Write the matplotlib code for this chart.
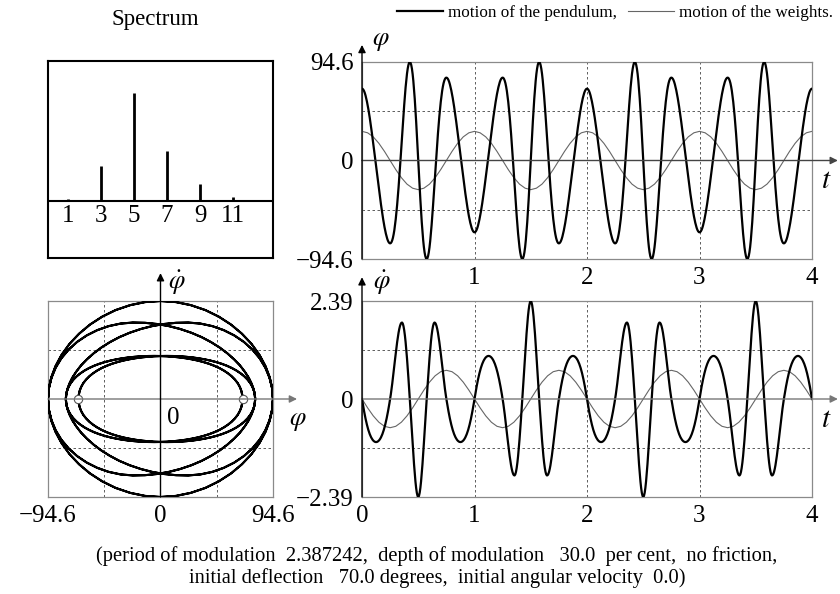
import numpy as np
import matplotlib

matplotlib.use("Agg")
import matplotlib.pyplot as plt

plt.rcParams["font.family"] = ["Liberation Serif", "DejaVu Serif"]
plt.rcParams["mathtext.fontset"] = "stix"

# --- data ---
# pendulum, sampled every 0.00625 time units from t=0 to t=4
T_PEND = np.linspace(0, 4, 641)
PHI_PEND = [
    69.0,
    # t in (0, 1]
    68.7, 67.9, 66.6, 64.8, 62.5, 59.8, 56.7, 53.3, 49.5, 45.4,
    41.1, 36.5, 31.7, 26.7, 21.6, 16.4, 11.0, 5.6, 0.2, -5.3,
    -10.8, -16.2, -21.6, -27.0, -32.2, -37.3, -42.3, -47.1, -51.7, -56.0,
    -60.1, -63.9, -67.3, -70.4, -73.1, -75.4, -77.2, -78.5, -79.3, -79.6,
    -79.3, -78.3, -76.6, -74.2, -70.9, -66.9, -61.9, -56.2, -49.7, -42.4,
    -34.4, -25.8, -16.6, -7.0, 3.0, 13.1, 23.4, 33.6, 43.6, 53.1,
    62.0, 70.2, 77.3, 83.4, 88.2, 91.7, 93.9, 94.6, 93.9, 91.8,
    88.2, 83.1, 76.5, 68.5, 59.3, 48.9, 37.6, 25.5, 12.9, 0.0,
    -12.9, -25.5, -37.6, -48.9, -59.3, -68.5, -76.5, -83.1, -88.2, -91.8,
    -93.9, -94.6, -93.9, -91.7, -88.2, -83.4, -77.3, -70.2, -62.0, -53.1,
    -43.6, -33.6, -23.4, -13.1, -3.0, 7.0, 16.6, 25.8, 34.4, 42.4,
    49.7, 56.2, 61.9, 66.9, 70.9, 74.2, 76.6, 78.3, 79.3, 79.6,
    79.3, 78.5, 77.2, 75.4, 73.1, 70.4, 67.3, 63.9, 60.1, 56.0,
    51.7, 47.1, 42.3, 37.3, 32.2, 27.0, 21.6, 16.2, 10.8, 5.3,
    -0.2, -5.6, -11.0, -16.4, -21.6, -26.7, -31.7, -36.5, -41.1, -45.4,
    -49.5, -53.3, -56.7, -59.8, -62.5, -64.8, -66.6, -67.9, -68.7, -69.0,
    # t in (1, 2]
    -68.7, -67.9, -66.6, -64.8, -62.5, -59.8, -56.7, -53.3, -49.5, -45.4,
    -41.1, -36.5, -31.7, -26.7, -21.6, -16.4, -11.0, -5.6, -0.2, 5.3,
    10.8, 16.2, 21.6, 27.0, 32.2, 37.3, 42.3, 47.1, 51.7, 56.0,
    60.1, 63.9, 67.3, 70.4, 73.1, 75.4, 77.2, 78.5, 79.3, 79.6,
    79.3, 78.3, 76.6, 74.2, 70.9, 66.9, 61.9, 56.2, 49.7, 42.4,
    34.4, 25.8, 16.6, 7.0, -3.0, -13.1, -23.4, -33.6, -43.6, -53.1,
    -62.0, -70.2, -77.3, -83.4, -88.2, -91.7, -93.9, -94.6, -93.9, -91.8,
    -88.2, -83.1, -76.5, -68.5, -59.3, -48.9, -37.6, -25.5, -12.9, 0.0,
    12.9, 25.5, 37.6, 48.9, 59.3, 68.5, 76.5, 83.1, 88.2, 91.8,
    93.9, 94.6, 93.9, 91.7, 88.2, 83.4, 77.3, 70.2, 62.0, 53.1,
    43.6, 33.6, 23.4, 13.1, 3.0, -7.0, -16.6, -25.8, -34.4, -42.4,
    -49.7, -56.2, -61.9, -66.9, -70.9, -74.2, -76.6, -78.3, -79.3, -79.6,
    -79.3, -78.5, -77.2, -75.4, -73.1, -70.4, -67.3, -63.9, -60.1, -56.0,
    -51.7, -47.1, -42.3, -37.3, -32.2, -27.0, -21.6, -16.2, -10.8, -5.3,
    0.2, 5.6, 11.0, 16.4, 21.6, 26.7, 31.7, 36.5, 41.1, 45.4,
    49.5, 53.3, 56.7, 59.8, 62.5, 64.8, 66.6, 67.9, 68.7, 69.0,
    # t in (2, 3]
    68.7, 67.9, 66.6, 64.8, 62.5, 59.8, 56.7, 53.3, 49.5, 45.4,
    41.1, 36.5, 31.7, 26.7, 21.6, 16.4, 11.0, 5.6, 0.2, -5.3,
    -10.8, -16.2, -21.6, -27.0, -32.2, -37.3, -42.3, -47.1, -51.7, -56.0,
    -60.1, -63.9, -67.3, -70.4, -73.1, -75.4, -77.2, -78.5, -79.3, -79.6,
    -79.3, -78.3, -76.6, -74.2, -70.9, -66.9, -61.9, -56.2, -49.7, -42.4,
    -34.4, -25.8, -16.6, -7.0, 3.0, 13.1, 23.4, 33.6, 43.6, 53.1,
    62.0, 70.2, 77.3, 83.4, 88.2, 91.7, 93.9, 94.6, 93.9, 91.8,
    88.2, 83.1, 76.5, 68.5, 59.3, 48.9, 37.6, 25.5, 12.9, 0.0,
    -12.9, -25.5, -37.6, -48.9, -59.3, -68.5, -76.5, -83.1, -88.2, -91.8,
    -93.9, -94.6, -93.9, -91.7, -88.2, -83.4, -77.3, -70.2, -62.0, -53.1,
    -43.6, -33.6, -23.4, -13.1, -3.0, 7.0, 16.6, 25.8, 34.4, 42.4,
    49.7, 56.2, 61.9, 66.9, 70.9, 74.2, 76.6, 78.3, 79.3, 79.6,
    79.3, 78.5, 77.2, 75.4, 73.1, 70.4, 67.3, 63.9, 60.1, 56.0,
    51.7, 47.1, 42.3, 37.3, 32.2, 27.0, 21.6, 16.2, 10.8, 5.3,
    -0.2, -5.6, -11.0, -16.4, -21.6, -26.7, -31.7, -36.5, -41.1, -45.4,
    -49.5, -53.3, -56.7, -59.8, -62.5, -64.8, -66.6, -67.9, -68.7, -69.0,
    # t in (3, 4]
    -68.7, -67.9, -66.6, -64.8, -62.5, -59.8, -56.7, -53.3, -49.5, -45.4,
    -41.1, -36.5, -31.7, -26.7, -21.6, -16.4, -11.0, -5.6, -0.2, 5.3,
    10.8, 16.2, 21.6, 27.0, 32.2, 37.3, 42.3, 47.1, 51.7, 56.0,
    60.1, 63.9, 67.3, 70.4, 73.1, 75.4, 77.2, 78.5, 79.3, 79.6,
    79.3, 78.3, 76.6, 74.2, 70.9, 66.9, 61.9, 56.2, 49.7, 42.4,
    34.4, 25.8, 16.6, 7.0, -3.0, -13.1, -23.4, -33.6, -43.6, -53.1,
    -62.0, -70.2, -77.3, -83.4, -88.2, -91.7, -93.9, -94.6, -93.9, -91.8,
    -88.2, -83.1, -76.5, -68.5, -59.3, -48.9, -37.6, -25.5, -12.9, 0.0,
    12.9, 25.5, 37.6, 48.9, 59.3, 68.5, 76.5, 83.1, 88.2, 91.8,
    93.9, 94.6, 93.9, 91.7, 88.2, 83.4, 77.3, 70.2, 62.0, 53.1,
    43.6, 33.6, 23.4, 13.1, 3.0, -7.0, -16.6, -25.8, -34.4, -42.4,
    -49.7, -56.2, -61.9, -66.9, -70.9, -74.2, -76.6, -78.3, -79.3, -79.6,
    -79.3, -78.5, -77.2, -75.4, -73.1, -70.4, -67.3, -63.9, -60.1, -56.0,
    -51.7, -47.1, -42.3, -37.3, -32.2, -27.0, -21.6, -16.2, -10.8, -5.3,
    0.2, 5.6, 11.0, 16.4, 21.6, 26.7, 31.7, 36.5, 41.1, 45.4,
    49.5, 53.3, 56.7, 59.8, 62.5, 64.8, 66.6, 67.9, 68.7, 69.0,
]
DPHI_PEND = [
    0.0,
    # t in (0, 1]
    -0.105, -0.206, -0.301, -0.392, -0.476, -0.555, -0.627, -0.693, -0.754, -0.808,
    -0.856, -0.898, -0.935, -0.966, -0.992, -1.013, -1.029, -1.041, -1.048, -1.050,
    -1.048, -1.041, -1.029, -1.013, -0.992, -0.966, -0.935, -0.898, -0.856, -0.808,
    -0.754, -0.693, -0.627, -0.555, -0.476, -0.392, -0.301, -0.206, -0.105, 0.0,
    0.114, 0.239, 0.374, 0.517, 0.665, 0.816, 0.967, 1.114, 1.256, 1.389,
    1.511, 1.617, 1.707, 1.778, 1.829, 1.858, 1.864, 1.839, 1.777, 1.680,
    1.551, 1.391, 1.203, 0.992, 0.762, 0.516, 0.261, 0.0, -0.259, -0.530,
    -0.806, -1.080, -1.344, -1.591, -1.815, -2.010, -2.170, -2.289, -2.364, -2.390,
    -2.364, -2.289, -2.170, -2.010, -1.815, -1.591, -1.344, -1.080, -0.806, -0.530,
    -0.259, 0.0, 0.261, 0.516, 0.762, 0.992, 1.203, 1.391, 1.551, 1.680,
    1.777, 1.839, 1.864, 1.858, 1.829, 1.778, 1.707, 1.617, 1.511, 1.389,
    1.256, 1.114, 0.967, 0.816, 0.665, 0.517, 0.374, 0.239, 0.114, 0.0,
    -0.105, -0.206, -0.301, -0.392, -0.476, -0.555, -0.627, -0.693, -0.754, -0.808,
    -0.856, -0.898, -0.935, -0.966, -0.992, -1.013, -1.029, -1.041, -1.048, -1.050,
    -1.048, -1.041, -1.029, -1.013, -0.992, -0.966, -0.935, -0.898, -0.856, -0.808,
    -0.754, -0.693, -0.627, -0.555, -0.476, -0.392, -0.301, -0.206, -0.105, 0.0,
    # t in (1, 2]
    0.105, 0.206, 0.301, 0.392, 0.476, 0.555, 0.627, 0.693, 0.754, 0.808,
    0.856, 0.898, 0.935, 0.966, 0.992, 1.013, 1.029, 1.041, 1.048, 1.050,
    1.048, 1.041, 1.029, 1.013, 0.992, 0.966, 0.935, 0.898, 0.856, 0.808,
    0.754, 0.693, 0.627, 0.555, 0.476, 0.392, 0.301, 0.206, 0.105, 0.0,
    -0.114, -0.239, -0.374, -0.517, -0.665, -0.816, -0.967, -1.114, -1.256, -1.389,
    -1.511, -1.617, -1.707, -1.778, -1.829, -1.858, -1.864, -1.839, -1.777, -1.680,
    -1.551, -1.391, -1.203, -0.992, -0.762, -0.516, -0.261, 0.0, 0.259, 0.530,
    0.806, 1.080, 1.344, 1.591, 1.815, 2.010, 2.170, 2.289, 2.364, 2.390,
    2.364, 2.289, 2.170, 2.010, 1.815, 1.591, 1.344, 1.080, 0.806, 0.530,
    0.259, 0.0, -0.261, -0.516, -0.762, -0.992, -1.203, -1.391, -1.551, -1.680,
    -1.777, -1.839, -1.864, -1.858, -1.829, -1.778, -1.707, -1.617, -1.511, -1.389,
    -1.256, -1.114, -0.967, -0.816, -0.665, -0.517, -0.374, -0.239, -0.114, 0.0,
    0.105, 0.206, 0.301, 0.392, 0.476, 0.555, 0.627, 0.693, 0.754, 0.808,
    0.856, 0.898, 0.935, 0.966, 0.992, 1.013, 1.029, 1.041, 1.048, 1.050,
    1.048, 1.041, 1.029, 1.013, 0.992, 0.966, 0.935, 0.898, 0.856, 0.808,
    0.754, 0.693, 0.627, 0.555, 0.476, 0.392, 0.301, 0.206, 0.105, 0.0,
    # t in (2, 3]
    -0.105, -0.206, -0.301, -0.392, -0.476, -0.555, -0.627, -0.693, -0.754, -0.808,
    -0.856, -0.898, -0.935, -0.966, -0.992, -1.013, -1.029, -1.041, -1.048, -1.050,
    -1.048, -1.041, -1.029, -1.013, -0.992, -0.966, -0.935, -0.898, -0.856, -0.808,
    -0.754, -0.693, -0.627, -0.555, -0.476, -0.392, -0.301, -0.206, -0.105, 0.0,
    0.114, 0.239, 0.374, 0.517, 0.665, 0.816, 0.967, 1.114, 1.256, 1.389,
    1.511, 1.617, 1.707, 1.778, 1.829, 1.858, 1.864, 1.839, 1.777, 1.680,
    1.551, 1.391, 1.203, 0.992, 0.762, 0.516, 0.261, 0.0, -0.259, -0.530,
    -0.806, -1.080, -1.344, -1.591, -1.815, -2.010, -2.170, -2.289, -2.364, -2.390,
    -2.364, -2.289, -2.170, -2.010, -1.815, -1.591, -1.344, -1.080, -0.806, -0.530,
    -0.259, 0.0, 0.261, 0.516, 0.762, 0.992, 1.203, 1.391, 1.551, 1.680,
    1.777, 1.839, 1.864, 1.858, 1.829, 1.778, 1.707, 1.617, 1.511, 1.389,
    1.256, 1.114, 0.967, 0.816, 0.665, 0.517, 0.374, 0.239, 0.114, 0.0,
    -0.105, -0.206, -0.301, -0.392, -0.476, -0.555, -0.627, -0.693, -0.754, -0.808,
    -0.856, -0.898, -0.935, -0.966, -0.992, -1.013, -1.029, -1.041, -1.048, -1.050,
    -1.048, -1.041, -1.029, -1.013, -0.992, -0.966, -0.935, -0.898, -0.856, -0.808,
    -0.754, -0.693, -0.627, -0.555, -0.476, -0.392, -0.301, -0.206, -0.105, 0.0,
    # t in (3, 4]
    0.105, 0.206, 0.301, 0.392, 0.476, 0.555, 0.627, 0.693, 0.754, 0.808,
    0.856, 0.898, 0.935, 0.966, 0.992, 1.013, 1.029, 1.041, 1.048, 1.050,
    1.048, 1.041, 1.029, 1.013, 0.992, 0.966, 0.935, 0.898, 0.856, 0.808,
    0.754, 0.693, 0.627, 0.555, 0.476, 0.392, 0.301, 0.206, 0.105, 0.0,
    -0.114, -0.239, -0.374, -0.517, -0.665, -0.816, -0.967, -1.114, -1.256, -1.389,
    -1.511, -1.617, -1.707, -1.778, -1.829, -1.858, -1.864, -1.839, -1.777, -1.680,
    -1.551, -1.391, -1.203, -0.992, -0.762, -0.516, -0.261, 0.0, 0.259, 0.530,
    0.806, 1.080, 1.344, 1.591, 1.815, 2.010, 2.170, 2.289, 2.364, 2.390,
    2.364, 2.289, 2.170, 2.010, 1.815, 1.591, 1.344, 1.080, 0.806, 0.530,
    0.259, 0.0, -0.261, -0.516, -0.762, -0.992, -1.203, -1.391, -1.551, -1.680,
    -1.777, -1.839, -1.864, -1.858, -1.829, -1.778, -1.707, -1.617, -1.511, -1.389,
    -1.256, -1.114, -0.967, -0.816, -0.665, -0.517, -0.374, -0.239, -0.114, 0.0,
    0.105, 0.206, 0.301, 0.392, 0.476, 0.555, 0.627, 0.693, 0.754, 0.808,
    0.856, 0.898, 0.935, 0.966, 0.992, 1.013, 1.029, 1.041, 1.048, 1.050,
    1.048, 1.041, 1.029, 1.013, 0.992, 0.966, 0.935, 0.898, 0.856, 0.808,
    0.754, 0.693, 0.627, 0.555, 0.476, 0.392, 0.301, 0.206, 0.105, 0.0,
]

# weights, sampled every 0.05 time units
T_WEIGHTS = np.linspace(0, 4, 81)
PHI_WEIGHTS = [
    28.0, 26.6, 22.7, 16.5, 8.7, 0.0, -8.7, -16.5, -22.7, -26.6,
    -28.0, -26.6, -22.7, -16.5, -8.7, 0.0, 8.7, 16.5, 22.7, 26.6,
    28.0, 26.6, 22.7, 16.5, 8.7, 0.0, -8.7, -16.5, -22.7, -26.6,
    -28.0, -26.6, -22.7, -16.5, -8.7, 0.0, 8.7, 16.5, 22.7, 26.6,
    28.0, 26.6, 22.7, 16.5, 8.7, 0.0, -8.7, -16.5, -22.7, -26.6,
    -28.0, -26.6, -22.7, -16.5, -8.7, 0.0, 8.7, 16.5, 22.7, 26.6,
    28.0, 26.6, 22.7, 16.5, 8.7, 0.0, -8.7, -16.5, -22.7, -26.6,
    -28.0, -26.6, -22.7, -16.5, -8.7, 0.0, 8.7, 16.5, 22.7, 26.6,
    28.0,
]
DPHI_WEIGHTS = [
    0.0, -0.216, -0.411, -0.566, -0.666, -0.70, -0.666, -0.566, -0.411, -0.216,
    0.0, 0.216, 0.411, 0.566, 0.666, 0.70, 0.666, 0.566, 0.411, 0.216,
    0.0, -0.216, -0.411, -0.566, -0.666, -0.70, -0.666, -0.566, -0.411, -0.216,
    0.0, 0.216, 0.411, 0.566, 0.666, 0.70, 0.666, 0.566, 0.411, 0.216,
    0.0, -0.216, -0.411, -0.566, -0.666, -0.70, -0.666, -0.566, -0.411, -0.216,
    0.0, 0.216, 0.411, 0.566, 0.666, 0.70, 0.666, 0.566, 0.411, 0.216,
    0.0, -0.216, -0.411, -0.566, -0.666, -0.70, -0.666, -0.566, -0.411, -0.216,
    0.0, 0.216, 0.411, 0.566, 0.666, 0.70, 0.666, 0.566, 0.411, 0.216,
    0.0,
]

HARMONICS = [1, 3, 5, 7, 9, 11]
SPECTRUM = [0.02, 0.32, 1.0, 0.46, 0.155, 0.04]

PHI_MAX = 94.6
DPHI_MAX = 2.39
T_GRID = [1, 2, 3]
START_IDX = [0, 160]  # t = 0 and t = 1: the marked points in the phase plane

CAPTION = ("(period of modulation  2.387242,  depth of modulation   30.0  per cent,  no friction,\n"
           "initial deflection   70.0 degrees,  initial angular velocity  0.0)")

FS = 18
FRAME = "#8a8a8a"
GRID = dict(color="#444444", lw=0.6, ls=(0, (3, 3)), zorder=1)
ARROW = dict(arrowstyle="-|>", color="black", lw=1.0, mutation_scale=11, shrinkA=0, shrinkB=0)


def arrow(ax, p0, p1, color="black"):
    props = dict(ARROW)
    props["color"] = color
    ax.annotate("", xy=p1, xytext=p0, arrowprops=props, annotation_clip=False, zorder=5)


def frame(ax, color=FRAME, lw=0.9):
    for s in ax.spines.values():
        s.set_color(color)
        s.set_linewidth(lw)
    ax.tick_params(length=0, labelsize=FS, pad=6)


fig = plt.figure(figsize=(8.4, 5.94), dpi=100)
W, H = 840.0, 594.0
ax_sp = fig.add_axes([48 / W, 1 - 258 / H, 225 / W, 197 / H])
ax_ph = fig.add_axes([48 / W, 1 - 497 / H, 225 / W, 196 / H])
ax_a = fig.add_axes([362 / W, 1 - 259 / H, 450 / W, 197 / H])
ax_v = fig.add_axes([362 / W, 1 - 497 / H, 450 / W, 196 / H])

# --- spectrum ---
ax_sp.vlines(HARMONICS, 0, SPECTRUM, color="black", lw=2.0)
ax_sp.axhline(0, color="black", lw=1.5)
for h in HARMONICS:
    ax_sp.text(h, -0.14, str(h), ha="center", va="center", fontsize=FS)
ax_sp.set_xlim(-0.2, 13.4)
ax_sp.set_ylim(-0.53, 1.3)
ax_sp.set_xticks([])
ax_sp.set_yticks([])
frame(ax_sp, "black", 1.5)
fig.text(155 / W, 1 - 20 / H, "Spectrum", ha="center", va="center", fontsize=16.5)

# --- phase plane ---
ax_ph.plot(PHI_PEND, DPHI_PEND, color="black", lw=1.5, zorder=3)
ax_ph.plot([PHI_PEND[i] for i in START_IDX], [DPHI_PEND[i] for i in START_IDX], "o",
           ms=6, mfc="white", mec="#555555", mew=0.8, zorder=4)
for v in (-PHI_MAX / 2, PHI_MAX / 2):
    ax_ph.axvline(v, **GRID)
for v in (-DPHI_MAX / 2, DPHI_MAX / 2):
    ax_ph.axhline(v, **GRID)
arrow(ax_ph, (-PHI_MAX, 0), (114.8, 0), color="#777777")
arrow(ax_ph, (0, -DPHI_MAX), (0, 3.07))
ax_ph.text(115.5, -0.55, r"$\varphi$", fontsize=19, ha="center", va="center")
ax_ph.text(14, 2.83, r"$\dot{\varphi}$", fontsize=19, ha="center", va="center")
ax_ph.text(10.5, -0.46, "0", fontsize=FS, ha="center", va="center")
ax_ph.set_xlim(-PHI_MAX, PHI_MAX)
ax_ph.set_ylim(-DPHI_MAX, DPHI_MAX)
ax_ph.set_xticks([-PHI_MAX, 0, PHI_MAX])
ax_ph.set_xticklabels(["\u221294.6", "0", "94.6"])
ax_ph.set_yticks([])
frame(ax_ph)

# --- angle vs time ---
ax_a.plot(T_PEND, PHI_PEND, color="black", lw=1.6, zorder=3, label="motion of the pendulum,")
ax_a.plot(T_WEIGHTS, PHI_WEIGHTS, color="#666666", lw=0.8, zorder=2, label="motion of the weights.")
for v in T_GRID:
    ax_a.axvline(v, **GRID)
for v in (-PHI_MAX / 2, PHI_MAX / 2):
    ax_a.axhline(v, **GRID)
arrow(ax_a, (0, 0), (4.23, 0), color="#444444")
arrow(ax_a, (0, -PHI_MAX), (0, 111))
ax_a.text(0.09, 114, r"$\varphi$", fontsize=19, ha="left", va="center")
ax_a.text(4.125, -20, r"$t$", fontsize=21, ha="center", va="center")
ax_a.set_xlim(0, 4)
ax_a.set_ylim(-PHI_MAX, PHI_MAX)
ax_a.set_xticks([1, 2, 3, 4])
ax_a.set_yticks([-PHI_MAX, 0, PHI_MAX])
ax_a.set_yticklabels(["\u221294.6", "0", "94.6"])
frame(ax_a)

# --- angular velocity vs time ---
ax_v.plot(T_PEND, DPHI_PEND, color="black", lw=1.6, zorder=3)
ax_v.plot(T_WEIGHTS, DPHI_WEIGHTS, color="#666666", lw=0.8, zorder=2)
for v in T_GRID:
    ax_v.axvline(v, **GRID)
for v in (-DPHI_MAX / 2, DPHI_MAX / 2):
    ax_v.axhline(v, **GRID)
arrow(ax_v, (0, 0), (4.23, 0), color="#777777")
arrow(ax_v, (0, -DPHI_MAX), (0, 2.97))
ax_v.text(0.1, 2.83, r"$\dot{\varphi}$", fontsize=19, ha="left", va="center")
ax_v.text(4.125, -0.52, r"$t$", fontsize=21, ha="center", va="center")
ax_v.set_xlim(0, 4)
ax_v.set_ylim(-DPHI_MAX, DPHI_MAX)
ax_v.set_xticks([0, 1, 2, 3, 4])
ax_v.set_yticks([-DPHI_MAX, 0, DPHI_MAX])
ax_v.set_yticklabels(["\u22122.39", "0", "2.39"])
frame(ax_v)

fig.legend(loc="center left", bbox_to_anchor=(397 / W, 1 - 13 / H), ncol=2, frameon=False,
           fontsize=12.3, handlelength=2.7, handletextpad=0.3, columnspacing=0.6,
           borderaxespad=0, borderpad=0)
fig.text(0.52, 1 - 567 / H, CAPTION, ha="center", va="center", fontsize=14.8,
         linespacing=1.2, multialignment="center")

fig.savefig("out.png", dpi=100)
